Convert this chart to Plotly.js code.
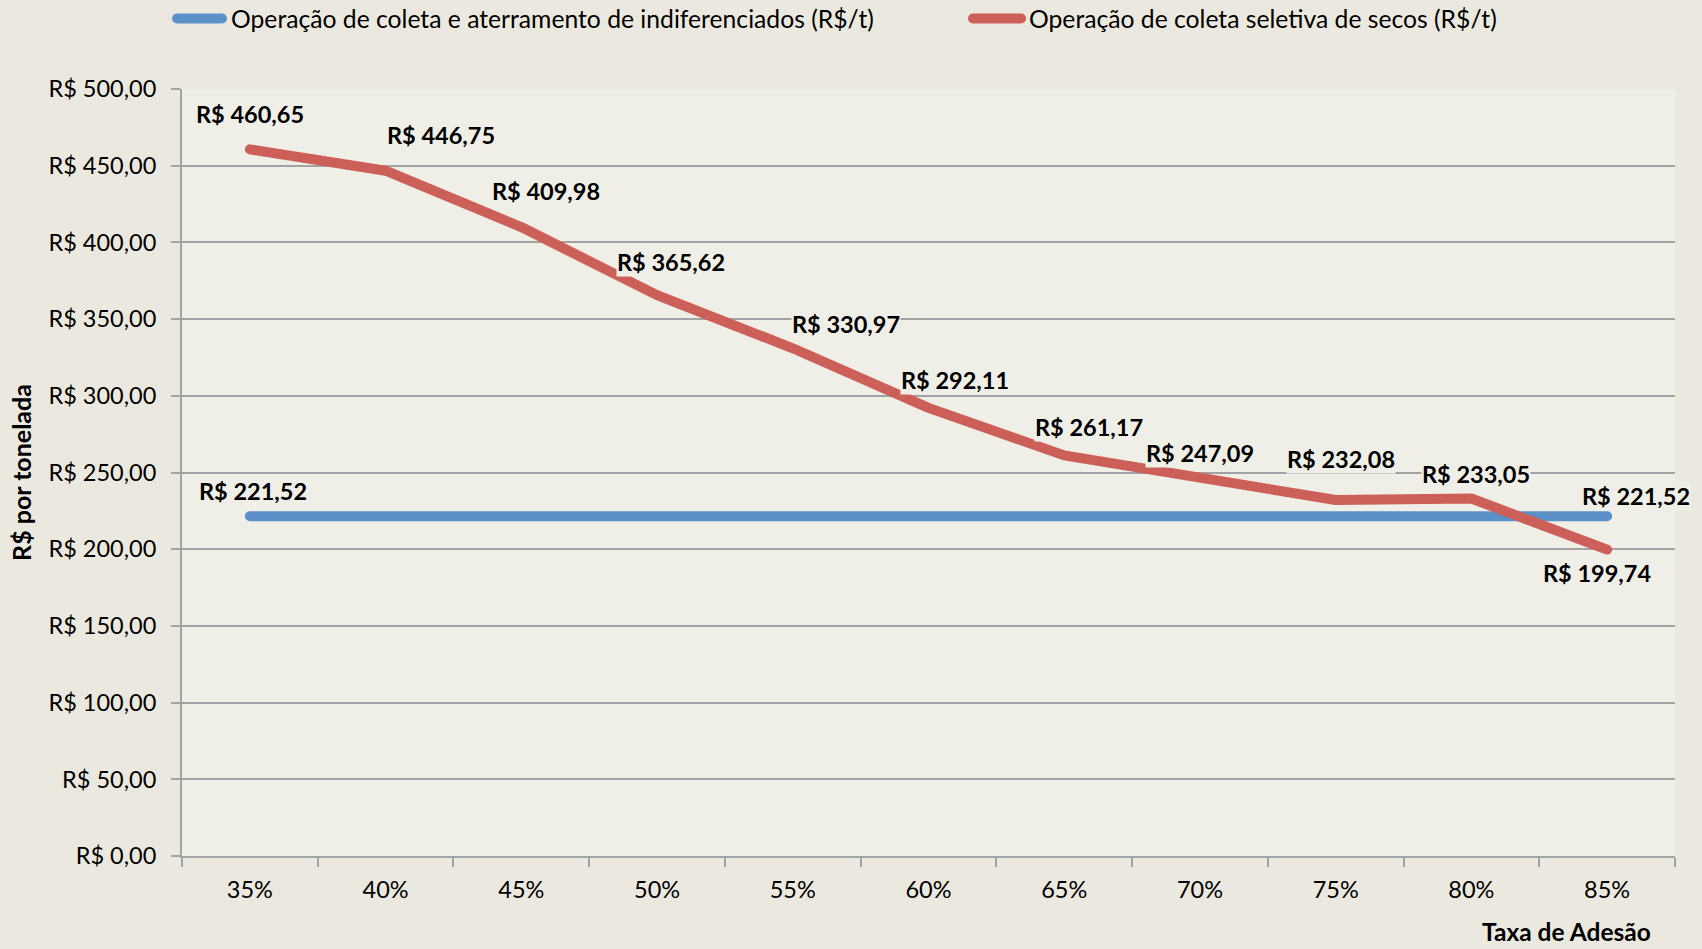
<!DOCTYPE html>
<html>
<head>
<meta charset="utf-8">
<script src="https://cdn.plot.ly/plotly-3.0.1.min.js"></script>
<style>
  html, body { margin: 0; padding: 0; background: #EBE9DF; }
  #chart { width: 1702px; height: 949px; }
  .scatterlayer .js-line { stroke-linecap: round !important; stroke-linejoin: round !important; }
  .shapelayer path { stroke-linecap: round !important; }
</style>
</head>
<body>
<div id="chart"></div>
<script>
// ---- data ----
const categories = ['35%', '40%', '45%', '50%', '55%', '60%', '65%', '70%', '75%', '80%', '85%'];
const indiferenciados = [221.52, 221.52, 221.52, 221.52, 221.52, 221.52, 221.52, 221.52, 221.52, 221.52, 221.52];
const seletiva = [460.65, 446.75, 409.98, 365.62, 330.97, 292.11, 261.17, 247.09, 232.08, 233.05, 199.74];
const seriesNames = [
  'Operação de coleta e aterramento de indiferenciados (R$/t)',
  'Operação de coleta seletiva de secos (R$/t)'
];
const yTitle = 'R$ por tonelada';
const xTitle = 'Taxa de Adesão';

// ---- style ----
const FONT = 'Lato, "Open Sans", sans-serif';
const BLUE = '#5B90C8';
const RED = '#CC6058';
const PLOT_BG = '#F0EFE7';
const PAPER_BG = '#EBE9DF';
const GRID = '#A3A3A3';
const COLORS = [BLUE, RED];

// label placement offsets (pixels) for each point of the red series
const redLabelShift = [
  [0, 35], [55, 36], [25, 36], [14, 33], [53, 24], [26, 28],
  [25, 28], [0, 24], [5, 41], [5, 25], [-10, -23]
];
// blue series labels only at first and last point
const blueLabelIdx = [0, 10];
const blueLabelShift = [[3, 25], [29, 20]];

// legend placement (paper coordinates) — swatch start/end and text start
const legendPos = [
  {x0: -0.0033, x1: 0.0268, tx: 0.0315},
  {x0: 0.5298, x1: 0.5620, tx: 0.5660}
];
const legendY = 1.0919;

function fmt(v) { return 'R$ ' + v.toFixed(2).replace('.', ','); }

const LABEL_FONT = {family: FONT, size: 23.5, color: '#000', weight: 'bold'};
const annotations = [];
const shapes = [];
seletiva.forEach((v, i) => {
  annotations.push({
    x: categories[i], y: v, xref: 'x', yref: 'y', text: fmt(v), showarrow: false,
    xshift: redLabelShift[i][0], yshift: redLabelShift[i][1],
    font: LABEL_FONT, bgcolor: PLOT_BG, borderpad: 0
  });
});
blueLabelIdx.forEach((idx, k) => {
  annotations.push({
    x: categories[idx], y: indiferenciados[idx], xref: 'x', yref: 'y', text: fmt(indiferenciados[idx]),
    showarrow: false, xshift: blueLabelShift[k][0], yshift: blueLabelShift[k][1],
    font: LABEL_FONT, bgcolor: PLOT_BG, borderpad: 0
  });
});
annotations.push({
  x: 0.927, y: -0.099, xref: 'paper', yref: 'paper', text: xTitle, showarrow: false,
  xanchor: 'center', yanchor: 'middle',
  font: {family: FONT, size: 24.5, color: '#000', weight: 'bold'}
});
// legend
seriesNames.forEach((name, i) => {
  shapes.push({
    type: 'line', xref: 'paper', yref: 'paper',
    x0: legendPos[i].x0, x1: legendPos[i].x1, y0: legendY, y1: legendY,
    line: {color: COLORS[i], width: 10}
  });
  annotations.push({
    x: legendPos[i].tx, y: legendY, xref: 'paper', yref: 'paper', text: name, showarrow: false,
    xanchor: 'left', yanchor: 'middle',
    font: {family: FONT, size: 24.7, color: '#000'}
  });
});

const traces = [
  {
    x: categories, y: indiferenciados, name: seriesNames[0], type: 'scatter', mode: 'lines',
    line: {color: BLUE, width: 10}, hoverinfo: 'skip', showlegend: false
  },
  {
    x: categories, y: seletiva, name: seriesNames[1], type: 'scatter', mode: 'lines',
    line: {color: RED, width: 10}, hoverinfo: 'skip', showlegend: false
  }
];

const layout = {
  width: 1702, height: 949,
  paper_bgcolor: PAPER_BG, plot_bgcolor: PLOT_BG,
  margin: {l: 182, r: 27, t: 89, b: 93},
  separators: ',.',
  font: {family: FONT, size: 23.5, color: '#000'},
  showlegend: false,
  xaxis: {
    type: 'category', range: [-0.5, 10.5], tickson: 'boundaries',
    showgrid: false, showline: true, linecolor: GRID, linewidth: 2,
    ticks: 'outside', ticklen: 9, tickwidth: 2, tickcolor: GRID,
    ticklabelstandoff: 12,
    tickfont: {family: FONT, size: 23.5, color: '#000'}, zeroline: false, fixedrange: true
  },
  yaxis: {
    range: [0, 500], dtick: 50, tick0: 0, tickprefix: 'R$ ', tickformat: '.2f',
    showgrid: true, gridcolor: GRID, gridwidth: 2,
    showline: true, linecolor: GRID, linewidth: 2,
    ticks: 'outside', ticklen: 9, tickwidth: 2, tickcolor: GRID,
    ticklabelstandoff: 10,
    tickfont: {family: FONT, size: 23.5, color: '#000'}, zeroline: false, fixedrange: true,
    title: {text: yTitle, standoff: 10, font: {family: FONT, size: 25, color: '#000', weight: 'bold'}}
  },
  shapes: shapes,
  annotations: annotations
};

Plotly.newPlot('chart', traces, layout, {displayModeBar: false, staticPlot: true});
</script>
</body>
</html>
